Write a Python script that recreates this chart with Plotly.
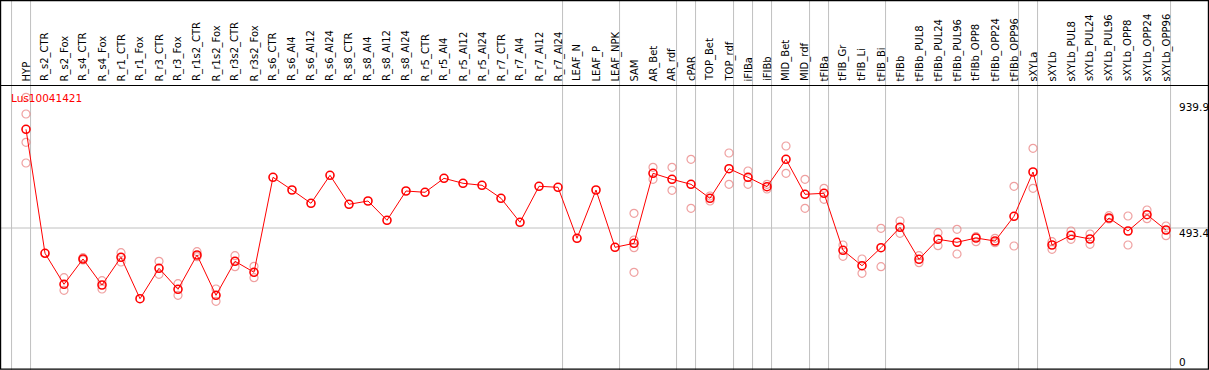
import plotly.graph_objects as go

categories = ["HYP", "R_s2_CTR", "R_s2_Fox", "R_s4_CTR", "R_s4_Fox", "R_r1_CTR", "R_r1_Fox",
              "R_r3_CTR", "R_r3_Fox", "R_r1s2_CTR", "R_r1s2_Fox", "R_r3s2_CTR", "R_r3s2_Fox",
              "R_s6_CTR", "R_s6_Al4", "R_s6_Al12", "R_s6_Al24", "R_s8_CTR", "R_s8_Al4", "R_s8_Al12",
              "R_s8_Al24", "R_r5_CTR", "R_r5_Al4", "R_r5_Al12", "R_r5_Al24", "R_r7_CTR", "R_r7_Al4",
              "R_r7_Al12", "R_r7_Al24", "LEAF_N", "LEAF_P", "LEAF_NPK", "SAM", "AR_Bet", "AR_rdf",
              "cPAR", "TOP_Bet", "TOP_rdf", "iFIBa", "iFIBb", "MID_Bet", "MID_rdf", "tFIBa",
              "tFIB_Gr", "tFIB_Li", "tFIB_Bi", "tFIBb", "tFIBb_PUL8", "tFIBb_PUL24", "tFIBb_PUL96",
              "tFIBb_OPP8", "tFIBb_OPP24", "tFIBb_OPP96", "sXYLa", "sXYLb", "sXYLb_PUL8",
              "sXYLb_PUL24", "sXYLb_PUL96", "sXYLb_OPP8", "sXYLb_OPP24", "sXYLb_OPP96"]

mean_values = [841.5, 404.2, 294.8, 384.1, 292.4, 390.1, 244.0, 351.3, 277.2, 398.2, 256.0, 376.0,
               337.2, 672.2, 627.4, 580.5, 679.3, 577.0, 588.6, 520.6, 623.9, 619.3, 668.7, 651.1,
               644.0, 598.2, 513.5, 640.5, 636.9, 457.1, 627.4, 425.3, 439.4, 686.3, 665.2, 647.5,
               598.2, 702.6, 672.2, 639.1, 735.7, 612.3, 615.8, 414.7, 360.4, 423.9, 495.9, 383.0,
               453.5, 443.0, 458.1, 447.5, 534.7, 690.9, 433.4, 467.7, 454.6, 528.7, 482.8, 540.3,
               486.3]

N = None
rep_a = [954.4, N, 318.1, 388.6, 307.5, 406.3, N, 376.0, 296.9, 409.8, 278.3, 395.7, 358.3,
         N, N, N, N, N, N, N, N, N, N, N, N, N, N, N, N, N, N, N,
         545.2, 707.5, 707.5, 735.7, 606.3, 757.9, 694.4, 647.5, 782.6, 665.2, 633.4, 433.4,
         384.1, 492.3, 518.1, 395.7, 476.8, 488.8, 462.7, 457.1, 640.5, 774.5, 445.1, 482.8,
         472.2, 536.8, 535.7, 556.9, 500.5]
rep_b = [895.5, N, 273.7, 380.5, 278.3, 373.5, N, 330.1, 256.0, 392.2, 234.9, 356.9, 318.1,
         N, N, N, N, N, N, N, N, N, N, N, N, N, N, N, N, N, N, N,
         451.1, 665.2, 626.4, 562.9, 588.6, 647.5, 647.5, 631.0, 686.3, 562.9, 594.6, 393.6,
         333.6, 356.9, 474.7, 371.0, 431.0, 401.7, 445.1, 441.6, 429.9, 633.4, 418.3, 453.5,
         435.9, 525.1, 433.4, 526.2, 466.2]
rep_c = [795.7] + [N] * 31 + [423.9] + [N] * 28
rep_d = [722.7] + [N] * 31 + [337.2] + [N] * 28

# indices of last category of each group (separator lines drawn after them)
group_ends = [-1, 0, 28, 31, 34, 35, 37, 38, 39, 41, 42, 45, 52, 53, 60]

gene_label = "Lus10041421"
axis_labels = [("939.9", 939.9), ("493.4", 493.4), ("0", 0)]

W, H = 1209, 370
FONT = "DejaVu Sans"
idx = list(range(len(categories)))

# pixel <-> data helpers (layout geometry)
x0_px, step_px = 26.0, 19.0
xr = [(0 - x0_px) / step_px, (W - x0_px) / step_px]
k = 3.527  # units per pixel
y_ref_px, y_ref_val = 228.0, 493.4
yr = [y_ref_val - (H - y_ref_px) * k, y_ref_val + y_ref_px * k]


def ypx(p):
    return y_ref_val + (y_ref_px - p) * k


fig = go.Figure()

rep_color = "rgba(232,120,120,0.7)"
for reps in (rep_a, rep_b, rep_c, rep_d):
    fig.add_trace(go.Scatter(
        x=idx, y=reps, mode="markers", hoverinfo="skip", showlegend=False,
        marker=dict(symbol="circle-open", size=8, color=rep_color, line=dict(width=1.2, color=rep_color))))

fig.add_trace(go.Scatter(
    x=idx, y=mean_values, mode="lines+markers", showlegend=False,
    line=dict(color="#ff0000", width=1),
    marker=dict(symbol="circle-open", size=8, color="#ff0000", line=dict(width=1.6, color="#ff0000"))))

shapes = []
grid = "#c0c0c0"
shapes.append(dict(type="line", xref="paper", yref="y", x0=0, x1=1, y0=493.4, y1=493.4,
                   line=dict(color=grid, width=1), layer="below"))
for g in group_ends:
    xs = g + 0.24
    shapes.append(dict(type="line", xref="x", yref="paper", x0=xs, x1=xs, y0=0, y1=1,
                       line=dict(color=grid, width=1), layer="below"))
shapes.append(dict(type="line", xref="paper", yref="y", x0=0, x1=1, y0=ypx(85.5), y1=ypx(85.5),
                   line=dict(color="black", width=1.2)))
shapes.append(dict(type="rect", xref="paper", yref="paper", x0=0.6 / W, x1=1 - 0.6 / W,
                   y0=0.8 / H, y1=1 - 0.6 / H, line=dict(color="black", width=1.2)))

annotations = []
for i, c in enumerate(categories):
    annotations.append(dict(x=i, y=ypx(83.5), xref="x", yref="y", text=c, showarrow=False,
                            textangle=-90, xanchor="center", yanchor="bottom",
                            font=dict(family=FONT, size=10, color="black")))
annotations.append(dict(x=(9 - x0_px) / step_px, y=ypx(97.5), xref="x", yref="y", text=gene_label,
                        showarrow=False, xanchor="left", yanchor="middle",
                        font=dict(family=FONT, size=10.5, color="#ff0000")))
label_py = [107, 232.5, 362]
for (t, v), p in zip(axis_labels, label_py):
    annotations.append(dict(x=(1177 - x0_px) / step_px, y=ypx(p), xref="x", yref="y", text=t,
                            showarrow=False, xanchor="left", yanchor="middle",
                            font=dict(family=FONT, size=10.5, color="black")))

fig.update_layout(
    width=W, height=H, margin=dict(l=0, r=0, t=0, b=0),
    paper_bgcolor="white", plot_bgcolor="white",
    xaxis=dict(range=xr, visible=False, showgrid=False, zeroline=False, fixedrange=True),
    yaxis=dict(range=yr, visible=False, showgrid=False, zeroline=False, fixedrange=True),
    shapes=shapes, annotations=annotations, showlegend=False,
)

fig.write_html("out.html", config={"displayModeBar": False},
               post_script="document.body.style.margin='0px';document.body.style.overflow='hidden';")
